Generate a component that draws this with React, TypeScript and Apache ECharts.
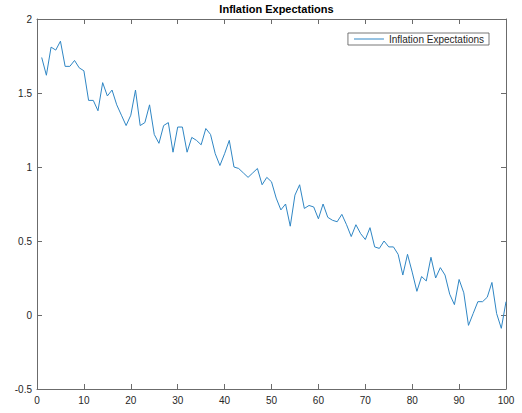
import React, { useEffect, useRef } from "react";
import * as echarts from "echarts";

const titleText = "Inflation Expectations";
const seriesName = "Inflation Expectations";
const periods: number[] = Array.from({ length: 100 }, (_, i) => i + 1);
const values: number[] = [
  1.74, 1.62, 1.81, 1.79, 1.85, 1.68, 1.68, 1.72, 1.67, 1.65,
  1.45, 1.45, 1.38, 1.57, 1.48, 1.52, 1.42, 1.35, 1.28, 1.35,
  1.52, 1.28, 1.30, 1.42, 1.22, 1.16, 1.28, 1.30, 1.10, 1.27,
  1.27, 1.10, 1.20, 1.18, 1.15, 1.26, 1.22, 1.09, 1.01, 1.09,
  1.18, 1.00, 0.99, 0.96, 0.93, 0.96, 0.99, 0.88, 0.93, 0.90,
  0.79, 0.71, 0.75, 0.60, 0.81, 0.88, 0.72, 0.74, 0.73, 0.65,
  0.75, 0.66, 0.64, 0.63, 0.68, 0.61, 0.53, 0.61, 0.55, 0.51,
  0.59, 0.46, 0.45, 0.50, 0.46, 0.46, 0.41, 0.27, 0.41, 0.29,
  0.16, 0.26, 0.23, 0.39, 0.25, 0.32, 0.27, 0.14, 0.07, 0.24,
  0.15, -0.07, 0.01, 0.09, 0.09, 0.12, 0.22, 0.01, -0.09, 0.09,
];
const xTicks = { min: 0, max: 100, interval: 10 };
const yTicks = { min: -0.5, max: 2, interval: 0.5 };

const FONT = "Liberation Sans, Arial, Helvetica, sans-serif";
const AXIS_COLOR = "#6b6b6b";
const LABEL_COLOR = "#262626";
const LINE_COLOR = "#2f86c4";

export default function App() {
  const ref = useRef<HTMLDivElement>(null);
  useEffect(() => {
    if (!ref.current) return;
    const chart = echarts.init(ref.current, null, { renderer: "svg" });
    const axisCommon = {
      axisLine: { show: true, onZero: false, lineStyle: { color: AXIS_COLOR, width: 1 } },
      axisTick: { show: true, inside: true, length: 5, lineStyle: { color: AXIS_COLOR, width: 1 } },
      splitLine: { show: false },
    };
    const fmtY = (v: number) => String(Math.round(v * 10) / 10);
    chart.setOption({
      animation: false,
      backgroundColor: "#ffffff",
      title: {
        text: titleText,
        left: 271.5,
        top: 1,
        padding: [2, 5, 2, 5],
        textAlign: "center",
        textStyle: { fontFamily: FONT, fontSize: 11, fontWeight: "bold", color: "#000" },
      },
      legend: {
        data: [seriesName],
        right: 33,
        top: 33,
        orient: "horizontal",
        padding: [1, 5, 1, 6],
        borderColor: "#555",
        borderWidth: 0.8,
        icon: "rect",
        itemWidth: 30,
        itemHeight: 1,
        textStyle: { fontFamily: FONT, fontSize: 10, color: LABEL_COLOR, lineHeight: 10 },
      },
      grid: { left: 37, right: 16, top: 19, bottom: 24, containLabel: false },
      xAxis: [
        {
          type: "value",
          position: "bottom",
          ...xTicks,
          ...axisCommon,
          axisLabel: { fontFamily: FONT, fontSize: 10, color: LABEL_COLOR, margin: 6 },
        },
        {
          type: "value",
          position: "top",
          ...xTicks,
          ...axisCommon,
          axisLabel: { show: false },
        },
      ],
      yAxis: [
        {
          type: "value",
          position: "left",
          ...yTicks,
          ...axisCommon,
          axisLabel: { fontFamily: FONT, fontSize: 10, color: LABEL_COLOR, margin: 5, formatter: fmtY },
        },
        {
          type: "value",
          position: "right",
          ...yTicks,
          ...axisCommon,
          axisLabel: { show: false },
        },
      ],
      series: [
        {
          name: seriesName,
          type: "line",
          data: periods.map((p, i) => [p, values[i]]),
          symbol: "none",
          lineStyle: { color: LINE_COLOR, width: 1 },
          itemStyle: { color: LINE_COLOR },
        },
      ],
    });
    return () => chart.dispose();
  }, []);
  return (
    <div
      ref={ref}
      style={{ position: "fixed", left: 0, top: 0, width: 522, height: 413, background: "#fff" }}
    />
  );
}
